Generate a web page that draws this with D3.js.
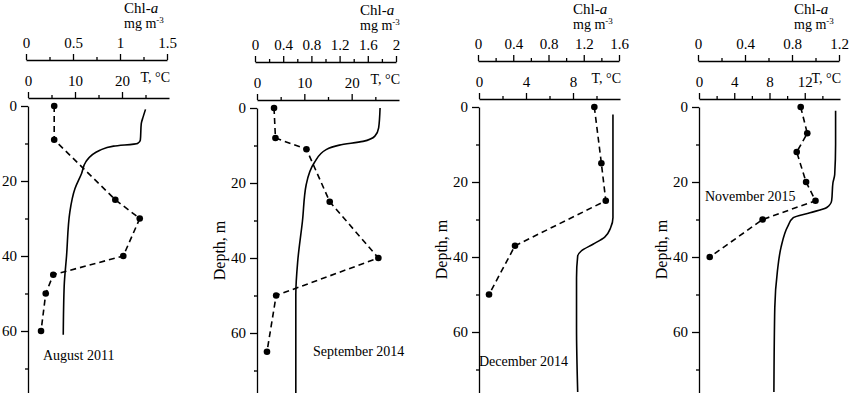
<!DOCTYPE html>
<html lang="en">

<head>
    <meta charset="utf-8">
    <title>chl-a and temperature profiles</title>
    <script src="https://cdn.jsdelivr.net/npm/d3@7/dist/d3.min.js"></script>
    <style>
        body { margin: 0; background: #fff; }
        svg { display: block; font-family: "Liberation Serif", "Times New Roman", serif; }
        .domain { stroke: #000; stroke-width: 1.3; }
        .tick line { stroke: #000; stroke-width: 1.3; }
        .tick text { font-family: "Liberation Serif", serif; font-size: 15px; fill: #000; }
    </style>
</head>

<body>
    <script>
        // [depth m, value]
        var augChl = [[0, 0.30], [9, 0.30], [25, 0.95], [30, 1.21], [40, 1.035], [45, 0.29], [50, 0.21], [60, 0.16]];
        var augTemp = [[0.9, 25.0], [2.9, 24.5], [4.7, 24.1], [9.1, 23.9], [10, 23.3], [10.7, 18.2], [11.8, 15.3],
            [14.9, 12.3], [18, 11.4], [22, 10.0], [28.3, 8.9], [40, 8.2], [48, 7.7], [61, 7.5]];
        var sepChl = [[0, 0.27], [8, 0.29], [11, 0.73], [25, 1.06], [40, 1.75], [50, 0.30], [65, 0.17]];
        var sepTemp = [[0, 26.0], [5.3, 25.7], [7.5, 24.9], [8.9, 22.4], [9.9, 17.4], [11.1, 14.6], [14.6, 12.1],
            [20.4, 10.4], [30.2, 9.6], [40.9, 8.6], [49.7, 8.2], [76, 8.2]];
        var decChl = [[0, 1.32], [15, 1.40], [25, 1.45], [37, 0.42], [50, 0.125]];
        var decTemp = [[2, 11.4], [29.5, 11.4], [32.2, 11.2], [34.7, 10.7], [36.6, 9.7], [38.4, 8.7], [39.7, 8.4],
            [45.5, 8.3], [58.8, 8.3], [76, 8.4]];
        var novChl = [[0, 0.874], [7, 0.93], [12, 0.84], [20, 0.92], [25, 1.0], [30, 0.55], [40, 0.10]];
        var novTemp = [[1, 15.5], [10, 15.5], [18, 15.4], [20.2, 15.2], [25, 15.05], [26.8, 14.5], [28.2, 12.6],
            [29.5, 10.7], [31.7, 10.1], [37.5, 9.3], [43.7, 8.9], [53.5, 8.6], [76, 8.5]];

        var months = ['August 2011', 'September 2014', 'December 2014', 'November 2015'];
        var chlMax = [1.5, 2, 1.6, 1.2];
        var chlLabels = [[0, 0.5, 1, 1.5], [0, 0.4, 0.8, 1.2, 1.6, 2], [0, 0.4, 0.8, 1.2, 1.6], [0, 0.4, 0.8, 1.2]];
        var chlStep = [0.25, 0.2, 0.2, 0.2];
        var tMax = [30, 30, 12, 16];
        var tLabels = [[0, 10, 20], [0, 10, 20], [0, 4, 8], [0, 4, 8, 12]];
        var tStep = [5, 5, 2, 2];
        var depthLabels = [0, 20, 40, 60];
        var depthMinor = [10, 30, 50, 70];

        var chlData = [augChl, sepChl, decChl, novChl];
        var tempData = [augTemp, sepTemp, decTemp, novTemp];

        // panel layout
        var layout = [
            { chlX: [26, 167], tX: [28, 169], depthX: 28, dy: 0, chlText: 124, month: [43, 360], depthTitle: false },
            { chlX: [255, 396], tX: [257, 399], depthX: 257, dy: 2, chlText: 360, month: [313, 356], depthTitle: true },
            { chlX: [478, 619], tX: [479, 620], depthX: 479, dy: 1, chlText: 573, month: [479, 366], depthTitle: true },
            { chlX: [698, 839], tX: [699, 840], depthX: 699, dy: 1, chlText: 794, month: [705, 201], depthTitle: true }
        ];

        var svgWidth = 850, svgHeight = 393;
        var svg = d3.select('body').append('svg')
            .attr('width', svgWidth)
            .attr('height', svgHeight);

        function range(step, max) {
            var out = [];
            for (var v = 0; v <= max + 1e-9; v += step) out.push(+v.toFixed(3));
            return out;
        }

        function clean(a) {
            a.attr('font-family', null).attr('font-size', null);
        }

        function drawPanel(i) {
            var L = layout[i];
            var g = svg.append('g');
            var chlY = 60 + L.dy, tY = 98 + L.dy, y0 = 106 + L.dy;

            var x = d3.scaleLinear().domain([0, chlMax[i]]).range(L.chlX);
            var xt = d3.scaleLinear().domain([0, tMax[i]]).range(L.tX);
            var y = d3.scaleLinear().domain([0, 80]).range([y0, y0 + 80 * 3.75]);
            var fmt = d => String(d);

            // chl axis
            var chlMinor = range(chlStep[i], chlMax[i]).filter(v => chlLabels[i].indexOf(v) < 0);
            g.append('g').attr('transform', `translate(0,${chlY})`)
                .call(d3.axisTop(x).tickValues(chlMinor).tickSize(3).tickSizeOuter(0).tickFormat(''))
                .call(clean);
            g.append('g').attr('transform', `translate(0,${chlY})`)
                .call(d3.axisTop(x).tickValues(chlLabels[i]).tickSize(6).tickSizeOuter(0).tickPadding(6).tickFormat(fmt))
                .call(clean)
                .call(a => a.select('.domain').remove());

            // temperature axis
            var tTicks = range(tStep[i], tMax[i] - tStep[i]);
            g.append('g').attr('transform', `translate(0,${tY})`)
                .call(d3.axisTop(xt).tickValues(tTicks.filter(v => tLabels[i].indexOf(v) < 0))
                    .tickSize(3).tickSizeOuter(0).tickFormat(''))
                .call(clean);
            g.append('g').attr('transform', `translate(0,${tY})`)
                .call(d3.axisTop(xt).tickValues(tLabels[i]).tickSize(6).tickSizeOuter(0).tickPadding(6).tickFormat(fmt))
                .call(clean)
                .call(a => a.select('.domain').remove());

            // depth axis
            g.append('g').attr('transform', `translate(${L.depthX},0)`)
                .call(d3.axisLeft(y).tickValues(depthMinor).tickSize(3).tickSizeOuter(0).tickFormat(''))
                .call(clean);
            g.append('g').attr('transform', `translate(${L.depthX},0)`)
                .call(d3.axisLeft(y).tickValues(depthLabels).tickSize(7).tickSizeOuter(0).tickPadding(4).tickFormat(fmt))
                .call(clean)
                .call(a => a.select('.domain').remove());

            // axis titles
            var t1 = g.append('text').attr('x', L.chlText).attr('y', 13 + L.dy).style('font-size', '15px');
            t1.append('tspan').text('Chl-');
            t1.append('tspan').style('font-style', 'italic').text('a');
            var t2 = g.append('text').attr('x', L.chlText).attr('y', 28 + L.dy).style('font-size', '14px');
            t2.append('tspan').text('mg m');
            t2.append('tspan').attr('dy', -5).style('font-size', '9px').text('-3');
            g.append('text').attr('x', L.tX[1] + 1).attr('y', tY - 16)
                .attr('text-anchor', 'end').style('font-size', '14px').text('T, \u00B0C');

            if (L.depthTitle) {
                g.append('text')
                    .attr('transform', `translate(${L.depthX - 32},${y(38)}) rotate(-90)`)
                    .attr('text-anchor', 'middle')
                    .style('font-size', '16px')
                    .text('Depth, m');
            }

            // temperature profile
            var lineT = d3.line().x(d => xt(d[1])).y(d => y(d[0])).curve(d3.curveMonotoneY);
            g.append('path').datum(tempData[i])
                .attr('d', lineT)
                .attr('fill', 'none').attr('stroke', '#000').attr('stroke-width', 1.6);

            // chl-a profile
            var lineC = d3.line().x(d => x(d[1])).y(d => y(d[0]));
            g.append('path').datum(chlData[i])
                .attr('d', lineC)
                .attr('fill', 'none').attr('stroke', '#000').attr('stroke-width', 1.6)
                .attr('stroke-dasharray', '6,4');
            g.selectAll('circle').data(chlData[i]).enter().append('circle')
                .attr('cx', d => x(d[1])).attr('cy', d => y(d[0]))
                .attr('r', 3.3).attr('fill', '#000');

            g.append('text').attr('x', L.month[0]).attr('y', L.month[1])
                .style('font-size', '14px').text(months[i]);
        }

        for (var i = 0; i < 4; i++) drawPanel(i);
    </script>
</body>

</html>
